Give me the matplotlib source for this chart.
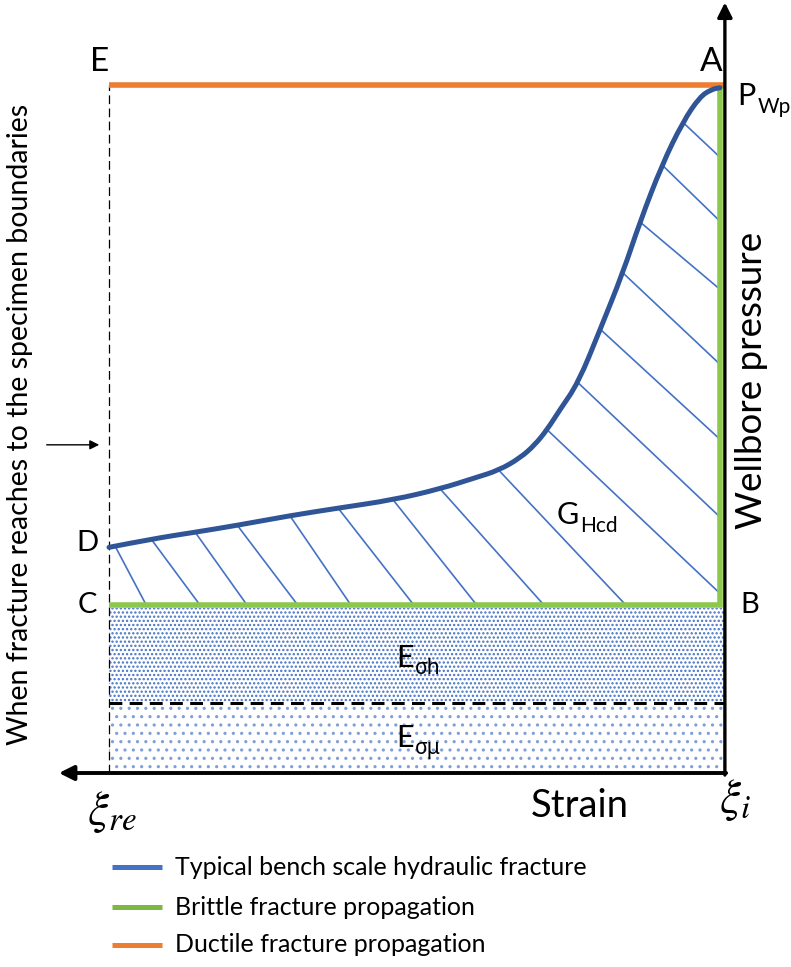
import numpy as np
import matplotlib
matplotlib.use("Agg")
import matplotlib.pyplot as plt
from matplotlib.patches import Rectangle, PathPatch
from matplotlib.path import Path

plt.rcParams['font.family'] = ['Lato', 'DejaVu Sans']
plt.rcParams['hatch.linewidth'] = 1.1

# strain measured from xi_i (0) out to xi_re (100), pressure from 0 to P_Wp (100)
curve_strain = [100, 93.1, 85.9, 79.0, 70.4, 62.5, 53.5, 45.8, 40.1, 36.2, 32.7,
                30.3, 28.3, 26.2, 23.2, 19.6, 15.9, 13.1, 9.5, 6.1, 3.3, 1.3, 0.0]
curve_pressure = [32.8, 34.0, 35.0, 36.0, 37.4, 38.5, 39.7, 41.3, 42.9, 44.0, 45.8,
                  47.7, 49.9, 52.8, 56.7, 64.5, 72.7, 80.1, 88.4, 94.6, 98.3, 99.4, 99.6]

# hatch strokes: start strain on the curve, end point on the brittle path
hatch_start = [99.0, 93.1, 85.9, 79.0, 70.4, 62.5, 53.5, 45.8, 36.2, 28.3, 23.2, 19.6, 15.9, 13.1, 9.5, 6.1]
hatch_end_strain = [93.9, 85.1, 77.4, 69.1, 60.4, 50.1, 39.8, 28.8, 15.4, 0, 0, 0, 0, 0, 0, 0]
hatch_end_pressure = [24.4, 24.4, 24.4, 24.4, 24.4, 24.4, 24.4, 24.4, 24.4,
                      26.1, 37.2, 48.5, 59.4, 70.3, 80.2, 89.5]

p_brittle = 24.4      # level C-B
p_ductile = 100.0     # level E-A (P_Wp)
p_split = 10.2        # boundary between E_sigma_h and E_sigma_mu

c_curve = '#2F5597'
c_hatch = '#4472C4'
c_green = '#8CC84B'
c_orange = '#ED7D31'

# pixel frame of the drawing
W, H = 791, 967
X0, X100 = 720, 109
Y0, Y100 = 773, 85
sx = (X0 - X100) / 100
sy = (Y0 - Y100) / 100

fig = plt.figure(figsize=(W / 100, H / 100), dpi=100)
ax = fig.add_axes([0, 0, 1, 1])
ax.set_xlim(X0 / sx, (X0 - W) / sx)
ax.set_ylim((Y0 - H) / sy, Y0 / sy)
ax.axis('off')

x_axis = -0.8

# elastic energy blocks below the brittle level
ax.add_patch(Rectangle((x_axis, p_split), 100 - x_axis, p_brittle - p_split - 0.4,
                       facecolor='white', edgecolor=c_hatch, lw=0, hatch='....', zorder=1))
ax.add_patch(Rectangle((x_axis, 0), 100 - x_axis, p_split,
                       facecolor='white', edgecolor='#7f9fd8', lw=0, hatch='..', zorder=1))
ax.plot([100, x_axis], [p_split, p_split], color='black', lw=2.2,
        linestyle=(0, (4.2, 2.4)), zorder=3)

# hatching under the bench scale curve
for xs, xe, ye in zip(hatch_start, hatch_end_strain, hatch_end_pressure):
    ys = np.interp(xs, curve_strain[::-1], curve_pressure[::-1])
    ax.plot([xs, xe], [ys, ye], color=c_hatch, lw=1.2, zorder=2)

# left boundary
ax.plot([100, 100], [0, p_ductile], color='black', lw=0.9, linestyle=(0, (7, 3.5)), zorder=2)

# propagation paths
ax.plot([100, x_axis], [p_ductile, p_ductile], color=c_orange, lw=4, solid_capstyle='butt', zorder=4)
ax.plot([100, 0, 0], [p_brittle, p_brittle, 99.6], color=c_green, lw=4,
        solid_capstyle='butt', solid_joinstyle='miter', zorder=4)

# bench scale curve, smoothed with quadratic segments between midpoints
pts = np.column_stack([curve_strain, curve_pressure])
verts = [pts[0]]
codes = [Path.MOVETO]
for i in range(1, len(pts) - 1):
    verts += [pts[i], (pts[i] + pts[i + 1]) / 2]
    codes += [Path.CURVE3, Path.CURVE3]
verts.append(pts[-1])
codes.append(Path.LINETO)
ax.add_patch(PathPatch(Path(verts, codes), facecolor='none', edgecolor=c_curve, lw=3.6,
                       capstyle='round', zorder=5))

# axes arrows
ax.annotate('', xy=(x_axis, 112.0), xytext=(x_axis, -0.3),
            arrowprops=dict(arrowstyle='-|>', lw=2.4, color='black', mutation_scale=22,
                            shrinkA=0, shrinkB=0), zorder=6)
ax.annotate('', xy=(108.2, 0), xytext=(x_axis - 0.2, 0),
            arrowprops=dict(arrowstyle='-|>', lw=2.8, color='black', mutation_scale=22,
                            shrinkA=0, shrinkB=0), zorder=6)
ax.annotate('', xy=(101.6, 47.7), xytext=(110.2, 47.7),
            arrowprops=dict(arrowstyle='-|>', lw=1.0, color='black', mutation_scale=14,
                            shrinkA=0, shrinkB=0))


def label_sub(x, y, main, sub, size, subsize, dy=-5):
    t = ax.text(x, y, main, fontsize=size, ha='left', va='center', zorder=7)
    ax.annotate(sub, xy=(1, 0), xycoords=t, xytext=(1, dy), textcoords='offset points',
                fontsize=subsize, ha='left', va='bottom', zorder=7,
                family=['Noto Sans', 'DejaVu Sans'] if any(c in sub for c in 'σμ') else None)


# point labels
ax.text(101.5, 103.3, 'E', fontsize=24, ha='center', va='center')
ax.text(1.5, 103.3, 'A', fontsize=24, ha='center', va='center')
ax.text(103.6, 33.4, 'D', fontsize=21, ha='center', va='center')
ax.text(103.6, 24.4, 'C', fontsize=21, ha='center', va='center')
ax.text(-4.9, 24.4, 'B', fontsize=21, ha='center', va='center')
label_sub(-2.9, 98.4, 'P', 'Wp', 22, 15)
label_sub(26.7, 37.5, 'G', 'Hcd', 22, 15)
label_sub(53.0, 16.7, 'E', 'σh', 22, 15)
label_sub(53.0, 5.1, 'E', 'σμ', 22, 15)

ax.text(-5.2, 57.1, 'Wellbore pressure', fontsize=26.5, rotation=90, ha='center', va='center')
ax.text(114.6, 50.6, 'When fracture reaches to the specimen boundaries', fontsize=20.5,
        rotation=90, ha='center', va='center')
ax.text(22.9, -4.8, 'Strain', fontsize=27.5, ha='center', va='center')
ax.text(99.5, -5.6, r'$\xi_{re}$', fontsize=34, ha='center', va='center', math_fontfamily='stix')
ax.text(-2.5, -3.9, r'$\xi_{i}$', fontsize=34, ha='center', va='center', math_fontfamily='stix')

# legend
legend_labels = ['Typical bench scale hydraulic fracture', 'Brittle fracture propagation',
                 'Ductile fracture propagation']
legend_colors = [c_hatch, '#7DB844', c_orange]
legend_y = [-13.7, -19.5, -25.0]
for lab, col, yy in zip(legend_labels, legend_colors, legend_y):
    ax.plot([99.5, 91.3], [yy, yy], color=col, lw=3.6, solid_capstyle='butt')
    ax.text(89.2, yy, lab, fontsize=18, ha='left', va='center')

fig.savefig('out.png', dpi=100)
